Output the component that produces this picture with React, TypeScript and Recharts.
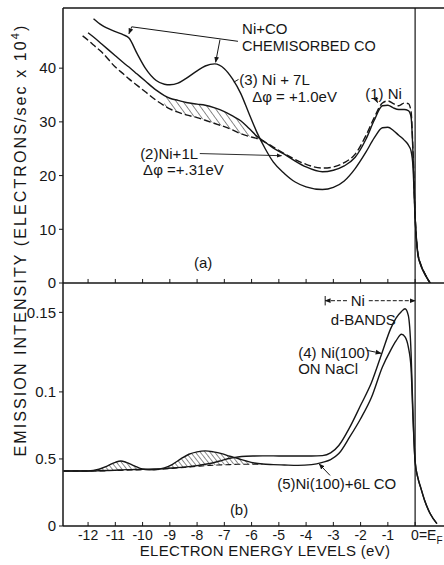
import React from "react";
import { ComposedChart, Line, Area, XAxis, YAxis, ReferenceLine, ReferenceDot } from "recharts";

const INK = "#161616";
const FONT = "'Liberation Sans', Arial, Helvetica, sans-serif";

const X_MIN = -12.92;
const X_MAX = 1.06;
const A_MAX = 51.2;
const B_MAX = 0.1812;

const xTicks = [-12, -11, -10, -9, -8, -7, -6, -5, -4, -3, -2, -1, 0];
const aTicks = [0, 10, 20, 30, 40];
// the original axis puts "0.15" a bit above its true place, so the tick sits where it is drawn
const bTickVals = [0, 0.05, 0.1, 0.1593];
const bTickLabels = ["0", "0.5", "0.1", "0.15"];

// panel (a): electrons/sec x 10^4
const aEnergy = [-12.2, -12, -11.8, -11.5, -11, -10.7, -10.5, -10.2, -9.9, -9.5, -9.2, -9, -8.7, -8.4, -8, -7.7, -7.35, -7, -6.7, -6.4, -6.1, -5.8, -5.5, -5.2, -4.8, -4.4, -4, -3.4, -3, -2.6, -2.2, -1.8, -1.5, -1.2, -1, -0.8, -0.6, -0.4, -0.25, -0.15, -0.08, 0, 0.1, 0.2, 0.35, 0.55];
const aNi = [46.0, 45.2, 44.3, 43.0, 40.2, 38.9, 38.0, 36.8, 35.6, 34.0, 33.0, 32.4, 31.8, 31.3, 30.8, 30.3, 29.7, 29.1, 28.5, 27.8, 27.3, 26.9, 26.2, 25.3, 24.1, 23.0, 22.1, 21.4, 21.6, 22.4, 24.0, 27.5, 30.8, 33.5, 33.9, 33.4, 33.0, 33.5, 33.4, 32.0, 25.0, 12.6, 5.6, 3.6, 1.8, 0];
const aNi1L = [null, 46.6, 45.8, 44.5, 42.3, 41.0, 40.2, 38.9, 37.6, 35.9, 34.9, 34.4, 34.0, 33.6, 33.3, 33.1, 32.6, 31.9, 31.1, 30.2, 28.8, 27.3, 26.2, 25.1, 24.0, 22.7, 21.6, 20.7, 21.0, 21.8, 23.4, 26.8, 30.3, 33.0, 33.1, 32.6, 32.3, 32.3, 32.1, 31.0, 24.5, 12.4, 5.5, 3.5, 1.8, 0];
const aNi7L = [null, null, 49.2, 48.0, 46.8, 46.2, 45.6, 42.7, 40.0, 37.7, 37.0, 36.9, 37.2, 38.1, 39.5, 40.4, 40.8, 39.9, 38.0, 35.3, 31.6, 28.0, 25.0, 22.5, 20.4, 18.8, 17.9, 17.4, 17.8, 19.0, 21.3, 24.4, 27.0, 28.9, 29.0, 28.4, 27.5, 26.6, 25.7, 24.6, 21.8, 12.2, 5.3, 3.4, 1.7, 0];
const aHatchFrom = -9.2;
const aHatchTo = -5.5;

// panel (b)
const bEnergy = [-12.9, -12.4, -12, -11.6, -11.3, -11, -10.8, -10.6, -10.3, -10, -9.6, -9.2, -8.9, -8.6, -8.3, -8, -7.7, -7.4, -7.1, -6.8, -6.5, -6.2, -5.9, -5.6, -5.2, -4.8, -4.3, -3.8, -3.4, -3.1, -2.8, -2.4, -2, -1.6, -1.2, -0.9, -0.7, -0.5, -0.37, -0.25, -0.15, -0.08, 0, 0.1, 0.2, 0.35, 0.55, 0.8];
const bNaCl = [0.041, 0.041, 0.041, 0.0412, 0.0414, 0.0416, 0.0418, 0.042, 0.0421, 0.0422, 0.0425, 0.0428, 0.0432, 0.0437, 0.0443, 0.045, 0.046, 0.0472, 0.0488, 0.0505, 0.0515, 0.052, 0.0522, 0.0523, 0.0523, 0.0522, 0.0522, 0.0522, 0.0525, 0.0545, 0.06, 0.0735, 0.09, 0.107, 0.13, 0.147, 0.155, 0.16, 0.162, 0.157, 0.13, 0.085, 0.048, 0.036, 0.029, 0.019, 0.0093, 0.0018];
const bCO = [0.041, 0.041, 0.041, 0.0423, 0.0447, 0.0475, 0.0485, 0.0475, 0.0448, 0.0425, 0.042, 0.0433, 0.046, 0.05, 0.0535, 0.0553, 0.056, 0.0553, 0.054, 0.052, 0.0503, 0.0485, 0.047, 0.0462, 0.0458, 0.0455, 0.0452, 0.0458, 0.0475, 0.0495, 0.054, 0.0664, 0.08, 0.096, 0.1186, 0.131, 0.138, 0.143, 0.141, 0.1335, 0.118, 0.082, 0.048, 0.036, 0.029, 0.019, 0.0093, 0.0018];
const bBackground = [0.041, 0.041, 0.041, 0.041, 0.0412, 0.0414, 0.0415, 0.0416, 0.0418, 0.042, 0.042, 0.0425, 0.043, 0.0435, 0.044, 0.0445, 0.045, 0.0453, 0.0456, 0.0458, 0.046, 0.046, 0.0461, 0.0462, null, null, null, null, null, null, null, null, null, null, null, null, null, null, null, null, null, null, null, null, null, null, null, null];
const bHatchFrom = -11.7;

const rowsA = aEnergy.map((x, i) => ({
  x,
  ni: aNi[i],
  ni1L: aNi1L[i],
  ni7L: aNi7L[i],
  hatch: x >= aHatchFrom && x <= aHatchTo ? [aNi[i], aNi1L[i]] : null,
}));

const rowsB = bEnergy.map((x, i) => ({
  x,
  nacl: bNaCl[i],
  co: bCO[i],
  bg: bBackground[i],
  hatch: x >= bHatchFrom && bBackground[i] != null ? [bBackground[i], bCO[i]] : null,
}));

const textStyle = { fontFamily: FONT, fill: INK };

// text drawn at a data position
const note = (t: React.ReactNode, anchor: "start" | "middle" | "end" = "start", size = 15) =>
  (p: any) => (
    <text x={p.cx} y={p.cy} dy="0.36em" textAnchor={anchor} fontSize={size} {...textStyle}>
      {t}
    </text>
  );

const EnergyTick = ({ x, y, payload }: any) => {
  const v = payload.value;
  if (v === 0) {
    return (
      <text x={x - 4} y={y + 12} textAnchor="start" fontSize={14} {...textStyle}>
        0=E<tspan fontSize={10} dy={4}>F</tspan>
      </text>
    );
  }
  return (
    <text x={x} y={y + 12} textAnchor="middle" fontSize={14} {...textStyle}>
      {String(v)}
    </text>
  );
};

const line = { stroke: INK, strokeWidth: 1.4 };

export default function App() {
  return (
    <div style={{ position: "absolute", left: 0, top: 0, width: 444, height: 565, background: "#fff" }}>
      <div style={{ position: "absolute", left: 0, top: 0 }}>
        <ComposedChart width={444} height={300} data={rowsA} margin={{ top: 8, right: 0, bottom: 17, left: 0 }}>
          <defs>
            <pattern id="hatchA" patternUnits="userSpaceOnUse" width={5.5} height={5.5} patternTransform="rotate(-36)">
              <line x1={0} y1={0} x2={0} y2={5.5} stroke={INK} strokeWidth={1} />
            </pattern>
            <marker id="arrA" viewBox="0 0 10 10" refX={9} refY={5} markerWidth={6} markerHeight={6} orient="auto">
              <path d="M0,1 L10,5 L0,9 z" fill={INK} />
            </marker>
          </defs>
          <XAxis dataKey="x" type="number" domain={[X_MIN, X_MAX]} allowDataOverflow ticks={xTicks} tick={false} tickLine={false} height={0} axisLine={{ stroke: INK, strokeWidth: 1.5 }} />
          <YAxis type="number" domain={[0, A_MAX]} allowDataOverflow ticks={aTicks} width={63} tickSize={4} tickMargin={3}
            tick={{ fontSize: 15, fontFamily: FONT, fill: INK }} tickLine={{ stroke: INK }} axisLine={{ stroke: INK, strokeWidth: 1.5 }} />
          <ReferenceLine y={A_MAX} stroke={INK} strokeWidth={1.5} />
          <ReferenceLine y={0} stroke={INK} strokeWidth={1.5} />
          <ReferenceLine x={0} stroke={INK} strokeWidth={1.2} />
          {xTicks.map((t) => (
            <ReferenceLine key={t} segment={[{ x: t, y: 0 }, { x: t, y: 0.75 }]} stroke={INK} strokeWidth={1} />
          ))}
          <Area dataKey="hatch" type="monotone" stroke="none" fill="url(#hatchA)" fillOpacity={1} isAnimationActive={false} activeDot={false} />
          <Line dataKey="ni" type="monotone" {...line} strokeDasharray="7 3" dot={false} isAnimationActive={false} />
          <Line dataKey="ni1L" type="monotone" {...line} dot={false} isAnimationActive={false} />
          <Line dataKey="ni7L" type="monotone" {...line} dot={false} isAnimationActive={false} />

          <ReferenceLine segment={[{ x: -10.4, y: 47.7 }, { x: -10.5, y: 46.4 }]} stroke={INK} strokeWidth={1} markerEnd="url(#arrA)" />
          <ReferenceLine segment={[{ x: -10.4, y: 47.7 }, { x: -6.5, y: 45.0 }]} stroke={INK} strokeWidth={1} />
          <ReferenceLine segment={[{ x: -7.16, y: 45.3 }, { x: -7.32, y: 41.1 }]} stroke={INK} strokeWidth={1} markerEnd="url(#arrA)" />
          <ReferenceLine segment={[{ x: -6.65, y: 37.4 }, { x: -6.48, y: 37.9 }]} stroke={INK} strokeWidth={1} />
          <ReferenceLine segment={[{ x: -1.47, y: 34.5 }, { x: -1.38, y: 33.6 }]} stroke={INK} strokeWidth={1} markerEnd="url(#arrA)" />
          <ReferenceLine segment={[{ x: -7.9, y: 24.1 }, { x: -4.9, y: 23.7 }]} stroke={INK} strokeWidth={0.9} markerEnd="url(#arrA)" />

          <ReferenceDot x={-6.35} y={47.3} r={0} shape={note("Ni+CO")} />
          <ReferenceDot x={-6.35} y={44.2} r={0} shape={note("CHEMISORBED CO", "start", 14.5)} />
          <ReferenceDot x={-6.45} y={37.9} r={0} shape={note("(3) Ni + 7L")} />
          <ReferenceDot x={-5.98} y={34.7} r={0} shape={note("Δφ = +1.0eV")} />
          <ReferenceDot x={-1.83} y={35.3} r={0} shape={note("(1) Ni")} />
          <ReferenceDot x={-10.09} y={24.1} r={0} shape={note("(2)Ni+1L")} />
          <ReferenceDot x={-9.98} y={21.1} r={0} shape={note("Δφ =+.31eV")} />
          <ReferenceDot x={-7.78} y={3.8} r={0} shape={note("(a)", "middle")} />
        </ComposedChart>
      </div>

      <div style={{ position: "absolute", left: 0, top: 283 }}>
        <ComposedChart width={444} height={282} data={rowsB} margin={{ top: 0, right: 0, bottom: 0, left: 0 }}>
          <defs>
            <pattern id="hatchB" patternUnits="userSpaceOnUse" width={3.8} height={3.8} patternTransform="rotate(-38)">
              <line x1={0} y1={0} x2={0} y2={3.8} stroke={INK} strokeWidth={1} />
            </pattern>
            <marker id="arrB" viewBox="0 0 10 10" refX={9} refY={5} markerWidth={6} markerHeight={6} orient="auto">
              <path d="M0,1 L10,5 L0,9 z" fill={INK} />
            </marker>
          </defs>
          <XAxis dataKey="x" type="number" domain={[X_MIN, X_MAX]} allowDataOverflow ticks={xTicks} height={39} tickSize={0} tickMargin={2}
            tickLine={false} tick={<EnergyTick />} interval={0} axisLine={{ stroke: INK, strokeWidth: 1.5 }} />
          <YAxis type="number" domain={[0, B_MAX]} allowDataOverflow ticks={bTickVals} width={63} tickSize={4} tickMargin={3}
            tickFormatter={(v: number) => bTickLabels[bTickVals.indexOf(v)] ?? ""}
            tick={{ fontSize: 15, fontFamily: FONT, fill: INK }} tickLine={{ stroke: INK }} axisLine={{ stroke: INK, strokeWidth: 1.5 }} />
          <ReferenceLine x={0} stroke={INK} strokeWidth={1.2} />
          {xTicks.map((t) => (
            <ReferenceLine key={t} segment={[{ x: t, y: 0 }, { x: t, y: 0.003 }]} stroke={INK} strokeWidth={1} />
          ))}
          <Area dataKey="hatch" type="monotone" stroke="none" fill="url(#hatchB)" fillOpacity={1} isAnimationActive={false} activeDot={false} />
          <Line dataKey="bg" type="monotone" stroke={INK} strokeWidth={1.1} strokeDasharray="6 3" dot={false} isAnimationActive={false} />
          <Line dataKey="nacl" type="monotone" {...line} dot={false} isAnimationActive={false} />
          <Line dataKey="co" type="monotone" {...line} dot={false} isAnimationActive={false} />

          <ReferenceLine segment={[{ x: -3.3, y: 0.1645 }, { x: -3.3, y: 0.1715 }]} stroke={INK} strokeWidth={1} />
          <ReferenceLine segment={[{ x: -2.5, y: 0.168 }, { x: -3.3, y: 0.168 }]} stroke={INK} strokeWidth={1} strokeDasharray="4 2" markerEnd="url(#arrB)" />
          <ReferenceLine segment={[{ x: -1.7, y: 0.168 }, { x: 0, y: 0.168 }]} stroke={INK} strokeWidth={1} strokeDasharray="4 2" markerEnd="url(#arrB)" />
          <ReferenceLine segment={[{ x: -1.77, y: 0.131 }, { x: -1.25, y: 0.1288 }]} stroke={INK} strokeWidth={1} markerEnd="url(#arrB)" />
          <ReferenceLine segment={[{ x: -3.12, y: 0.0377 }, { x: -3.52, y: 0.0462 }]} stroke={INK} strokeWidth={1} markerEnd="url(#arrB)" />

          <ReferenceDot x={-2.1} y={0.168} r={0} shape={note("Ni", "middle")} />
          <ReferenceDot x={-1.9} y={0.154} r={0} shape={note("d-BANDS", "middle")} />
          <ReferenceDot x={-4.29} y={0.1296} r={0} shape={note("(4) Ni(100)")} />
          <ReferenceDot x={-4.29} y={0.117} r={0} shape={note("ON NaCl")} />
          <ReferenceDot x={-5.06} y={0.0319} r={0} shape={note("(5)Ni(100)+6L CO")} />
          <ReferenceDot x={-6.46} y={0.0124} r={0} shape={note("(b)", "middle")} />
        </ComposedChart>
      </div>

      <svg width={444} height={565} style={{ position: "absolute", left: 0, top: 0, pointerEvents: "none" }}>
        <text transform="translate(26,240) rotate(-90)" textAnchor="middle" fontSize={16} letterSpacing={2.1} {...textStyle}>
          EMISSION INTENSITY (ELECTRONS/sec x 10<tspan fontSize={11} dy={-7}>4</tspan><tspan dy={7}>)</tspan>
        </text>
        <text x={265} y={556} textAnchor="middle" fontSize={15} letterSpacing={0.3} {...textStyle}>
          ELECTRON ENERGY LEVELS (eV)
        </text>
      </svg>
    </div>
  );
}
